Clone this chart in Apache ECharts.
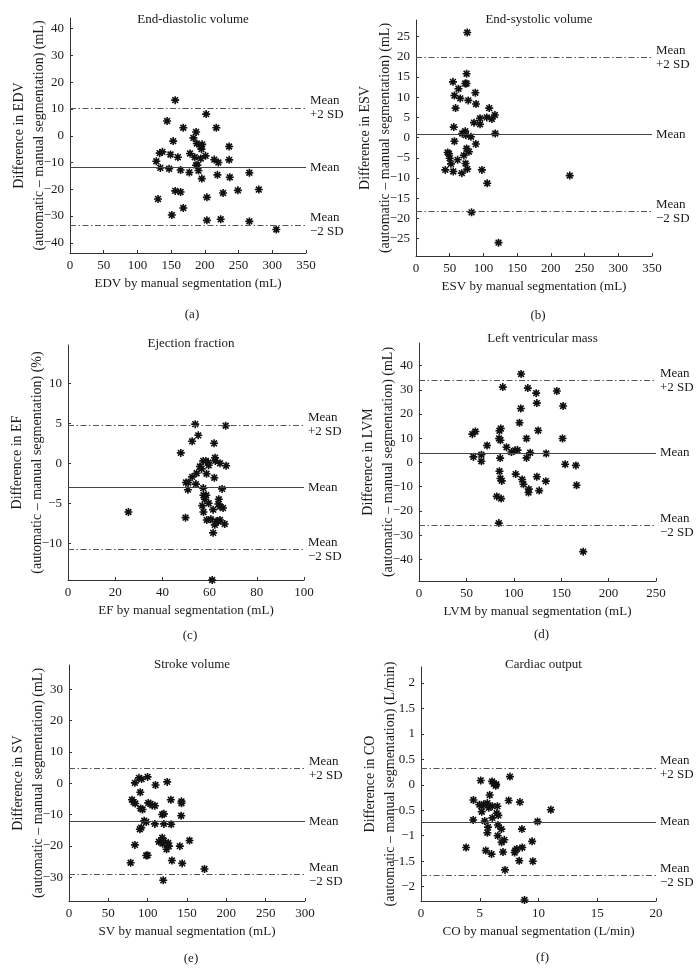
<!DOCTYPE html>
<html>
<head>
<meta charset="utf-8">
<script src="https://cdn.jsdelivr.net/npm/echarts@6/dist/echarts.min.js"></script>
<style>
html,body{margin:0;padding:0;background:#fff;}
#chart{width:699px;height:968px;}
</style>
</head>
<body>
<div id="chart"></div>
<script>
// ---------- data ----------
const titles = ['End-diastolic volume', 'End-systolic volume', 'Ejection fraction', 'Left ventricular mass', 'Stroke volume', 'Cardiac output'];
const panelTags = ['(a)', '(b)', '(c)', '(d)', '(e)', '(f)'];
const xNames = ['EDV by manual segmentation (mL)', 'ESV by manual segmentation (mL)', 'EF by manual segmentation (mL)', 'LVM by manual segmentation (mL)', 'SV by manual segmentation (mL)', 'CO by manual segmentation (L/min)'];
const yNames = ['Difference in EDV\n(automatic – manual segmentation) (mL)', 'Difference in ESV\n(automatic – manual segmentation) (mL)', 'Difference in EF\n(automatic – manual segmentation) (%)', 'Difference in LVM\n(automatic – manual segmentation) (mL)', 'Difference in SV\n(automatic – manual segmentation) (mL)', 'Difference in CO\n(automatic – manual segmentation) (L/min)'];

const xMax = [350, 350, 100, 250, 300, 20];
const xStep = [50, 50, 20, 50, 50, 5];
const yMin = [-43.8, -29.3, -14.6, -48.9, -37.6, -2.28];
const yMax = [44, 29.1, 14.8, 49.3, 37.7, 2.31];
const yTicks = [
  [-40, -30, -20, -10, 0, 10, 20, 30, 40],
  [-25, -20, -15, -10, -5, 0, 5, 10, 15, 20, 25],
  [-10, -5, 0, 5, 10],
  [-40, -30, -20, -10, 0, 10, 20, 30, 40],
  [-30, -20, -10, 0, 10, 20, 30],
  [-2, -1.5, -1, -0.5, 0, 0.5, 1, 1.5, 2]
];
// [mean, mean+2SD, mean-2SD]
const limits = [
  [-11.7, 10.4, -33.3],
  [0.74, 19.8, -18.2],
  [-3.0, 4.8, -10.75],
  [4.0, 33.9, -26.0],
  [-12.3, 4.7, -29.1],
  [-0.73, 0.33, -1.78]
];

const edvPoints = [[156,13.3],[202,8.1],[144,5.5],[168,3.0],[217,3.0],[187,1.4],[183,-0.8],[153,-2],[188,-2.9],[196,-3.2],[194,-4],[236,-4],[195,-5],[133,-6.5],[137,-6],[149,-7],[160,-8],[178,-6.6],[185,-8],[201,-7.5],[214,-8.9],[220,-10],[236,-9],[128,-9.5],[134,-12],[147,-12.3],[164,-12.8],[177,-13.7],[187,-11],[189,-11],[190.5,-13],[195.5,-16],[218.6,-14.6],[237,-15.5],[266,-13.8],[156,-20.6],[164,-21],[203,-23],[227,-21.4],[249,-20.4],[280,-20.1],[130.5,-23.6],[168,-27],[151,-29.6],[203,-31.6],[223.5,-31.2],[266,-32],[306,-35],[194,-8.5]];
const esvPoints = [[76,26],[75,15.8],[54.8,13.8],[73,13.4],[75,13.4],[63,12.1],[88,11.1],[57,10.4],[65.6,9.7],[77.5,9.2],[89,8.3],[58.7,7.3],[108.6,7.3],[117,5.6],[105,5.0],[95,4.8],[112.5,4.6],[86,3.7],[95,3.3],[56,2.6],[73,1.6],[68.6,1.0],[74,0.6],[81.5,0.2],[117.5,1.0],[57,-0.9],[88.8,-1.6],[75,-2.7],[46.9,-3.7],[48.9,-4.0],[71,-4.4],[78.5,-3.5],[50,-5.1],[51.8,-6.5],[61.7,-5.5],[73.5,-6.4],[43.4,-8],[55.3,-8.4],[68,-8.8],[76,-7.8],[97.7,-8],[228,-9.4],[105.6,-11.3],[82.4,-18.5],[122.4,-26]];
const efPoints = [[25.6,-6.1],[49.8,-6.8],[47.8,1.3],[53.9,4.9],[66.8,4.7],[55.2,3.5],[52.6,2.75],[61.9,2.5],[57.3,0.3],[58.4,0.3],[59.4,0.1],[62.3,0.7],[62.4,0.3],[64.4,0],[67,-0.3],[55.9,-0.4],[56.6,-0.7],[59.6,-0.25],[54.5,-1.25],[52.6,-1.7],[58.7,-1.3],[62,-1.8],[50,-2.4],[51,-2.4],[54.2,-2.6],[50.8,-3.3],[57.3,-3.1],[65.3,-3.2],[57.4,-4],[58.6,-4],[58,-4.5],[63.9,-4.5],[63.7,-5.1],[59.6,-5.0],[56.9,-5.3],[64.4,-5.4],[65.7,-5.6],[61.5,-5.8],[57.4,-6.1],[58.8,-7.1],[60.5,-7.0],[62.2,-7.7],[63.7,-7.3],[64.4,-7.1],[66.4,-7.6],[62.8,-7.25],[61.5,-8.7],[61.1,-14.6]];
const lvmPoints = [[107.7,36.5],[88.4,31.1],[114.8,30.7],[123.6,28.6],[145.4,29.5],[124.3,24.5],[152,23.3],[107.4,22.3],[106,16.4],[86.3,14],[84.9,13.1],[125.7,13.2],[59.5,12.8],[56.3,11.7],[84.5,9.9],[85.9,9.2],[113.4,9.9],[151.4,9.9],[71.8,7.0],[92.3,6.3],[101.4,5.0],[103.9,5.1],[97.5,4.3],[117.3,4.0],[134.2,3.7],[57.4,2.3],[65.8,3.2],[65.8,0.5],[85.6,1.8],[113.4,1.9],[154.2,-0.7],[165.5,-1.2],[84.9,-3.6],[85.9,-6.6],[87.3,-7.6],[102,-4.8],[108.8,-7],[110.2,-9],[124.3,-5.9],[133.8,-7.7],[115.8,-11],[115.5,-12.4],[126.8,-11.6],[166.2,-9.4],[82,-14],[86.6,-14.9],[84.2,-25],[173.2,-36.8]];
const svPoints = [[99.9,2.0],[88.9,1.7],[92.3,1.3],[124.8,0.4],[83.8,0.1],[110,-0.6],[90.6,-2.9],[80,-5.3],[82.1,-6],[84.2,-6.5],[129.5,-5.3],[143,-5.8],[143,-6.4],[100.7,-6.3],[103.6,-6.6],[105.8,-7.1],[109.2,-7.2],[91,-8.1],[93.5,-8.4],[118.5,-10],[120.6,-9.8],[142.6,-10.4],[95.6,-12],[98.2,-12.4],[109.2,-13],[120.6,-13],[129.9,-13.1],[90.1,-14.7],[91.8,-14.2],[114.3,-18.7],[118.5,-17.4],[120.6,-18.4],[126.1,-19.1],[127,-20.1],[124,-21.1],[118.9,-19.3],[140.9,-20.1],[153.2,-18.3],[83.8,-19.7],[78.3,-25.4],[98.2,-23.1],[99.9,-23],[130.8,-24.7],[143.9,-25.6],[172.2,-27.4],[119.8,-31]];
const coPoints = [[5.08,0.085],[7.57,0.16],[6.05,0.066],[6.2,0.02],[6.36,-0.02],[6.4,0.01],[5.85,-0.2],[4.46,-0.3],[7.46,-0.31],[8.42,-0.34],[4.97,-0.39],[5.14,-0.42],[5.34,-0.38],[5.65,-0.36],[5.76,-0.45],[6.07,-0.42],[6.5,-0.42],[5.17,-0.53],[6.44,-0.56],[6.58,-0.6],[6.07,-0.65],[11.05,-0.49],[4.44,-0.69],[5.42,-0.71],[9.92,-0.72],[6.55,-0.79],[5.7,-0.83],[5.65,-0.94],[6.84,-0.87],[8.59,-0.87],[6.53,-1.0],[7.09,-1.08],[6.86,-1.13],[9.46,-1.11],[3.84,-1.23],[5.51,-1.29],[6.0,-1.36],[6.98,-1.32],[7.97,-1.33],[8.02,-1.29],[8.16,-1.26],[8.62,-1.23],[8.36,-1.49],[9.52,-1.5],[7.15,-1.67],[8.81,-2.26]];
const allPoints = [edvPoints, esvPoints, efPoints, lvmPoints, svPoints, coPoints];

// ---------- layout ----------
const grids = [
  {left: 70, top: 18, width: 236, height: 235},
  {left: 416, top: 20, width: 236, height: 236},
  {left: 68, top: 345, width: 236, height: 235},
  {left: 419, top: 343, width: 237, height: 238},
  {left: 69, top: 665, width: 236, height: 236},
  {left: 421, top: 667, width: 235, height: 234}
];
const titleY = [8, 8, 332, 327, 653, 653];
const tagY = [303, 304, 624, 623, 947, 946];

const FONT = '"Liberation Serif", "DejaVu Serif", serif';
const TXT = '#1a1a1a';
const AX = '#333';
const fmt = v => String(v).replace('-', '\u2212');
const asterisk = 'path://M0,-5L0,5M-5,0L5,0M-3.6,-3.6L3.6,3.6M-3.6,3.6L3.6,-3.6';

const option = {
  backgroundColor: '#fff',
  animation: false,
  title: [],
  grid: grids.map(g => Object.assign({containLabel: false}, g)),
  xAxis: [],
  yAxis: [],
  series: []
};

for (let i = 0; i < 6; i++) {
  const g = grids[i];
  const cx = g.left + g.width / 2;
  option.title.push({
    text: titles[i], left: cx, top: titleY[i], textAlign: 'center',
    textStyle: {fontFamily: FONT, fontSize: 13, fontWeight: 'normal', color: TXT}
  });
  option.title.push({
    text: panelTags[i], left: cx - 1, top: tagY[i], textAlign: 'center',
    textStyle: {fontFamily: FONT, fontSize: 13, fontWeight: 'normal', color: TXT}
  });
  option.xAxis.push({
    type: 'value', gridIndex: i, min: 0, max: xMax[i], interval: xStep[i],
    name: xNames[i], nameLocation: 'middle', nameGap: 24,
    nameTextStyle: {fontFamily: FONT, fontSize: 13, color: TXT},
    axisLine: {show: true, onZero: false, lineStyle: {color: AX, width: 1}},
    axisTick: {show: true, inside: true, length: 3, lineStyle: {color: AX}},
    axisLabel: {fontFamily: FONT, fontSize: 13, color: TXT, margin: 6, formatter: fmt},
    splitLine: {show: false}
  });
  option.yAxis.push({
    type: 'value', gridIndex: i, min: yMin[i], max: yMax[i],
    name: yNames[i], nameLocation: 'middle', nameGap: 21, nameRotate: 90, nameMoveOverlap: false,
    nameTextStyle: {fontFamily: FONT, fontSize: 14, color: TXT, lineHeight: 20, align: 'center'},
    axisLine: {show: true, onZero: false, lineStyle: {color: AX, width: 1}},
    axisTick: {show: true, inside: true, length: 3, lineStyle: {color: AX}, customValues: yTicks[i]},
    axisLabel: {fontFamily: FONT, fontSize: 13, color: TXT, margin: 6, formatter: fmt, customValues: yTicks[i]},
    splitLine: {show: false}
  });
  const L = limits[i];
  const lbl = (t) => ({
    show: true, position: 'end', distance: 4, formatter: t,
    fontFamily: FONT, fontSize: 13, color: TXT, lineHeight: 14, align: 'left'
  });
  option.series.push({
    type: 'scatter', xAxisIndex: i, yAxisIndex: i,
    data: allPoints[i], symbol: asterisk, symbolSize: 8, clip: false,
    itemStyle: {color: 'rgba(0,0,0,0)', borderColor: '#111', borderWidth: 1.6, opacity: 1},
    markLine: {
      silent: true, symbol: 'none', animation: false,
      data: [
        {yAxis: L[0], lineStyle: {color: '#444', width: 1.1, type: 'solid'}, label: lbl('Mean')},
        {yAxis: L[1], lineStyle: {color: '#555', width: 1, type: [6, 2.5, 1.5, 2.5]}, label: lbl('Mean\n+2 SD')},
        {yAxis: L[2], lineStyle: {color: '#555', width: 1, type: [6, 2.5, 1.5, 2.5]}, label: lbl('Mean\n\u22122 SD')}
      ]
    }
  });
}

const chart = echarts.init(document.getElementById('chart'), null, {renderer: 'canvas'});
chart.setOption(option);
</script>
</body>
</html>
